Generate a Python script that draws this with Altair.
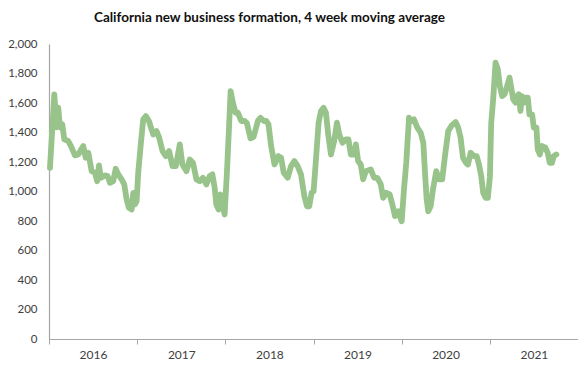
import altair as alt
import pandas as pd

# decimal-year time stamps and 4-week moving average values
t = [2016.011, 2016.060, 2016.087, 2016.105, 2016.124, 2016.150, 2016.173, 2016.218, 2016.249, 2016.294,
     2016.331, 2016.388, 2016.415, 2016.445, 2016.483, 2016.520, 2016.546, 2016.566, 2016.588, 2016.633,
     2016.664, 2016.690, 2016.727, 2016.755, 2016.784, 2016.822, 2016.852, 2016.879, 2016.905, 2016.936,
     2016.954, 2016.973, 2016.992,
     2017.010, 2017.041, 2017.067, 2017.097, 2017.131, 2017.180, 2017.218, 2017.248, 2017.286, 2017.324,
     2017.361, 2017.399, 2017.437, 2017.482, 2017.512, 2017.558, 2017.595, 2017.632, 2017.671, 2017.708,
     2017.745, 2017.784, 2017.821, 2017.852, 2017.878, 2017.897, 2017.923, 2017.942, 2017.965, 2017.991,
     2018.017, 2018.040, 2018.059, 2018.085, 2018.115, 2018.141, 2018.180, 2018.217, 2018.243, 2018.285,
     2018.319, 2018.370, 2018.398, 2018.436, 2018.463, 2018.489, 2018.519, 2018.557, 2018.602, 2018.632,
     2018.662, 2018.707, 2018.745, 2018.783, 2018.820, 2018.858, 2018.896, 2018.926, 2018.952, 2018.978,
     2019.001, 2019.028, 2019.058, 2019.085, 2019.114, 2019.141, 2019.167, 2019.198, 2019.235, 2019.266,
     2019.292, 2019.329, 2019.368, 2019.397, 2019.424, 2019.462, 2019.481, 2019.507, 2019.537, 2019.563,
     2019.594, 2019.650, 2019.688, 2019.725, 2019.764, 2019.790, 2019.827, 2019.865, 2019.895, 2019.925,
     2019.963,
     2020.001, 2020.027, 2020.053, 2020.084, 2020.114, 2020.140, 2020.178, 2020.216, 2020.246, 2020.265,
     2020.284, 2020.302, 2020.329, 2020.355, 2020.393, 2020.423, 2020.460, 2020.491, 2020.528, 2020.567,
     2020.612, 2020.641, 2020.668, 2020.695, 2020.729, 2020.751, 2020.782, 2020.819, 2020.850, 2020.876,
     2020.902, 2020.924, 2020.951, 2020.977,
     2021.000, 2021.015, 2021.037, 2021.064, 2021.090, 2021.113, 2021.139, 2021.166, 2021.195, 2021.223,
     2021.245, 2021.264, 2021.291, 2021.309, 2021.328, 2021.347, 2021.365, 2021.385, 2021.404, 2021.430,
     2021.449, 2021.479, 2021.498, 2021.528, 2021.543, 2021.566, 2021.592, 2021.630, 2021.656, 2021.679,
     2021.705, 2021.724, 2021.754]

values = [1161, 1659, 1435, 1568, 1435, 1455, 1353, 1342, 1308, 1245,
          1251, 1308, 1229, 1263, 1138, 1127, 1070, 1177, 1093, 1109,
          1104, 1059, 1070, 1154, 1116, 1082, 1048, 946, 889, 878,
          991, 912, 934,
          1127, 1331, 1489, 1511, 1478, 1387, 1410, 1365, 1274, 1240,
          1274, 1172, 1172, 1319, 1183, 1138, 1217, 1195, 1082, 1070,
          1093, 1048, 1104, 1116, 1025, 912, 878, 980, 923, 844,
          1127, 1421, 1681, 1602, 1534, 1534, 1478, 1478, 1465, 1360,
          1370, 1480, 1500, 1478, 1478, 1455, 1308, 1183, 1240, 1229,
          1127, 1093, 1172, 1206, 1172, 1116, 968, 900, 900, 991,
          1002, 1217, 1467, 1546, 1568, 1534, 1387, 1251, 1342, 1467,
          1387, 1331, 1353, 1353, 1251, 1251, 1319, 1206, 1183, 1082,
          1138, 1150, 1093, 1093, 1048, 957, 991, 980, 912, 833,
          866,
          798, 1014, 1195, 1500, 1478, 1489, 1433, 1399, 1331, 1127,
          946, 866, 900, 1014, 1138, 1082, 1082, 1240, 1410, 1448,
          1471, 1433, 1365, 1229, 1195, 1183, 1263, 1240, 1240, 1183,
          1104, 991, 957, 957,
          1104, 1467, 1625, 1874, 1829, 1715, 1647, 1659, 1715, 1772,
          1693, 1625, 1602, 1647, 1659, 1546, 1647, 1602, 1636, 1636,
          1523, 1523, 1433, 1433, 1285, 1251, 1308, 1297, 1263, 1195,
          1195, 1240, 1251]

year_ticks = [2016, 2017, 2018, 2019, 2020, 2021, 2022]


def to_date(y):
    yr = int(y)
    start = pd.Timestamp(year=yr, month=1, day=1)
    end = pd.Timestamp(year=yr + 1, month=1, day=1)
    return start + (end - start) * (y - yr)


df = pd.DataFrame({"date": [to_date(v) for v in t], "value": values})

W, H = 529, 295

line = alt.Chart(df).mark_line(
    color="#98c48b", strokeWidth=5.8, strokeCap="round", strokeJoin="round"
).encode(
    x=alt.X(
        "date:T",
        scale=alt.Scale(domain=[alt.DateTime(year=2016, month=1, date=1),
                                alt.DateTime(year=2022, month=1, date=1)]),
        axis=alt.Axis(
            title=None,
            values=[alt.DateTime(year=y, month=1, date=1) for y in year_ticks],
            labelExpr="year(datum.value) < 2022 ? timeFormat(datum.value, '%Y') : ''",
            labelOffset=44,
            labelFlush=False,
            labelOverlap=False,
            labelBound=False,
            tickSize=5,
            tickColor="#a6a6a6",
            domainColor="#a6a6a6",
            labelPadding=5,
            grid=False,
        ),
    ),
    y=alt.Y(
        "value:Q",
        scale=alt.Scale(domain=[0, 2000], nice=False),
        axis=alt.Axis(
            title=None,
            values=list(range(0, 2001, 200)),
            format=",.0f",
            ticks=False,
            domainColor="#a6a6a6",
            labelPadding=12,
            labelFontSize=11.5,
            labelFlush=False,
            grid=False,
        ),
    ),
)

chart = line.properties(
    width=W,
    height=H,
    title=alt.TitleParams(
        "California new business formation, 4 week moving average",
        fontSize=13.5,
        fontWeight="bold",
        font="Lato",
        color="#111111",
        dx=-44,
        offset=14,
    ),
    autosize=alt.AutoSizeParams(type="none"),
    padding={"left": 41, "top": 36, "right": 0, "bottom": 26},
).configure_view(stroke=None).configure_axis(
    labelFont="Lato", labelFontSize=12, labelColor="#404040", domainWidth=1.2
)

chart.save("out.html", embed_options={"renderer": "svg", "actions": False})
